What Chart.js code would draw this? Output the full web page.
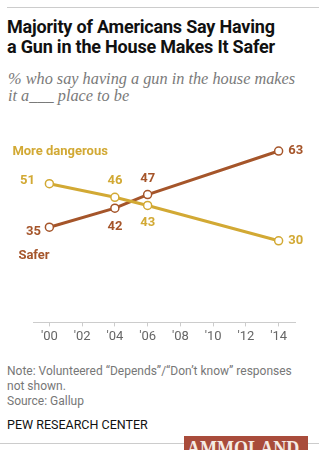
<!DOCTYPE html>
<html>
<head>
<meta charset="utf-8">
<script src="https://cdn.jsdelivr.net/npm/chart.js@4"></script>
<style>
  html, body { margin: 0; padding: 0; background: #fff; }
  body { width: 319px; height: 450px; position: relative; overflow: hidden; font-family: Roboto, "Liberation Sans", sans-serif; }
  .rule { position: absolute; left: 7px; right: 0; height: 1px; background: #ccc; }
  #title { position: absolute; left: 7px; top: 17px; width: 312px; font-size: 18px; line-height: 20px; font-weight: bold; color: #111; letter-spacing: -0.2px; white-space: nowrap; }
  #subtitle { position: absolute; left: 8px; top: 70px; width: 312px; font-family: "Liberation Serif", serif; font-style: italic; font-size: 16.3px; line-height: 17px; color: #7a7a7a; white-space: nowrap; }
  #wrap { position: absolute; left: 0; top: 110px; width: 319px; height: 238px; }
  #note { position: absolute; left: 7px; top: 364px; width: 312px; font-size: 12px; line-height: 15px; color: #777; white-space: nowrap; }
  #pew { position: absolute; left: 7px; top: 417px; font-size: 12.5px; color: #111; }
  #wm { position: absolute; left: 184px; top: 436px; width: 124px; height: 14px; background: #a94c3b; overflow: hidden; }
  #wm span { position: absolute; left: 3px; top: 1px; font-family: "Liberation Serif", serif; font-weight: bold; font-size: 22px; line-height: 22px; color: #f5ebe4; transform: scaleX(0.82); transform-origin: left top; }
</style>
</head>
<body>
<div class="rule" style="top:7px"></div>
<div id="title">Majority of Americans Say Having<br>a Gun in the House Makes It Safer</div>
<div id="subtitle">% who say having a gun in the house makes<br>it a___ place to be</div>
<div id="wrap"><canvas id="chart"></canvas></div>
<div id="note">Note: Volunteered “Depends”/“Don’t know” responses<br>not shown.<br>Source: Gallup</div>
<div id="pew">PEW RESEARCH CENTER</div>
<div class="rule" style="top:443px; left:0"></div>
<div id="wm"><span>AMMOLAND</span></div>
<script>
const years = [2000, 2004, 2006, 2014];
const safer = [35, 42, 47, 63];
const moreDangerous = [51, 46, 43, 30];
const tickYears = [2000, 2002, 2004, 2006, 2008, 2010, 2012, 2014];

const saferColor = '#a5552a';
const dangerColor = '#d2a934';

// label offsets (px) from each point
const saferOffsets = [[-16, 5], [0, 19], [0, -16], [17, 0]];
const dangerOffsets = [[-22, -3], [0, -17], [0, 17], [17, 0]];

const labelPlugin = {
    id: 'pointLabels',
    afterDatasetsDraw(chart) {
        const ctx = chart.ctx;
        ctx.save();
        ctx.font = 'bold 13px Roboto, "Liberation Sans", sans-serif';
        ctx.textBaseline = 'middle';
        chart.data.datasets.forEach((ds, i) => {
            const meta = chart.getDatasetMeta(i);
            const offs = i === 0 ? dangerOffsets : saferOffsets;
            ctx.fillStyle = ds.borderColor;
            ctx.textAlign = 'center';
            meta.data.forEach((pt, j) => {
                ctx.fillText(ds.data[j].y, pt.x + offs[j][0], pt.y + offs[j][1]);
            });
            // series names
            const first = meta.data[0];
            ctx.textAlign = 'left';
            if (i === 0) {
                ctx.fillText('More dangerous', first.x - 37, first.y - 32);
            } else {
                ctx.fillText('Safer', first.x - 31, first.y + 29);
            }
        });
        ctx.restore();
    }
};

new Chart(document.getElementById('chart'), {
    type: 'line',
    data: {
        datasets: [{
            label: 'More dangerous',
            data: years.map((y, i) => ({ x: y, y: moreDangerous[i] })),
            borderColor: dangerColor,
            backgroundColor: '#fff',
            borderWidth: 3,
            pointRadius: 4,
            pointBorderWidth: 1.5,
            pointBackgroundColor: '#fff'
        }, {
            label: 'Safer',
            data: years.map((y, i) => ({ x: y, y: safer[i] })),
            borderColor: saferColor,
            backgroundColor: '#fff',
            borderWidth: 3,
            pointRadius: 4,
            pointBorderWidth: 1.5,
            pointBackgroundColor: '#fff'
        }]
    },
    options: {
        responsive: true,
        maintainAspectRatio: false,
        animation: false,
        layout: { padding: { left: 33, right: 24, top: 22, bottom: 0 } },
        plugins: {
            legend: { display: false },
            tooltip: { enabled: false }
        },
        scales: {
            x: {
                type: 'linear',
                min: 1999,
                max: 2015,
                afterBuildTicks: axis => { axis.ticks = tickYears.map(v => ({ value: v })); },
                grid: { drawOnChartArea: false, color: '#ccc', tickLength: 4 },
                border: { color: '#ccc' },
                ticks: {
                    color: '#666',
                    padding: 3,
                    maxRotation: 0,
                    font: { size: 13, family: 'Roboto, "Liberation Sans", sans-serif' },
                    callback: v => "'" + String(v).slice(2)
                }
            },
            y: {
                display: false,
                min: 0,
                max: 70
            }
        }
    },
    plugins: [labelPlugin]
});
</script>
</body>
</html>
